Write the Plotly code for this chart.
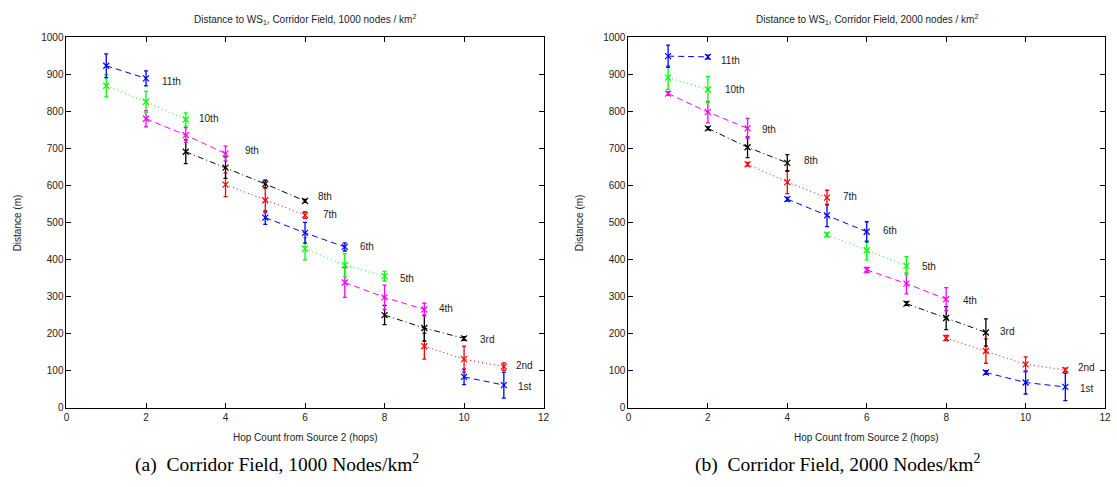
import plotly.graph_objects as go

W, H = 1117, 487

series_labels = ["1st", "2nd", "3rd", "4th", "5th", "6th", "7th", "8th", "9th", "10th", "11th"]
series_colors = ["#0000ff", "#ff0000", "#000000", "#ff00ff", "#00ff00",
                 "#0000ff", "#ff0000", "#000000", "#ff00ff", "#00ff00", "#0000ff"]
series_dashes = ["6px,4px", "1px,3px", "6px,3px,1px,3px", "6px,4px", "1px,3px",
                 "6px,4px", "1px,3px", "6px,3px,1px,3px", "6px,4px", "1px,3px", "6px,4px"]

# ---- (a) 1000 nodes / km^2 ----
left_x = [[10, 11], [9, 10, 11], [8, 9, 10], [7, 8, 9], [6, 7, 8], [5, 6, 7],
          [4, 5, 6], [3, 4, 5, 6], [2, 3, 4], [1, 2, 3], [1, 2]]
left_y = [[83, 61], [166, 131, 111], [250, 215, 187], [338, 298, 265], [429, 385, 355],
          [513, 472, 434], [602, 560, 520], [691, 648, 604, 558], [780, 736, 686],
          [869, 826, 778], [923, 889]]
left_err = [[21, 35], [35, 35, 10], [26, 35, 5], [40, 33, 17], [30, 31, 13],
            [18, 28, 11], [32, 33, 9], [32, 29, 10, 4], [22, 20, 20],
            [30, 28, 18], [32, 20]]
left_label_x = [11.3, 11.25, 10.36, 9.31, 8.33, 7.34, 6.4, 6.28, 4.43, 3.29, 2.35]
left_label_y = [58, 115, 183, 267, 350, 436, 522, 570, 693, 781, 881]

# ---- (b) 2000 nodes / km^2 ----
right_x = [[9, 10, 11], [8, 9, 10, 11], [7, 8, 9], [6, 7, 8], [5, 6, 7], [4, 5, 6],
           [3, 4, 5], [2, 3, 4], [1, 2, 3], [1, 2], [1, 2]]
right_y = [[95, 68, 56], [188, 153, 117, 102], [281, 242, 203], [372, 335, 293],
           [467, 425, 383], [563, 519, 475], [657, 609, 567], [754, 703, 661],
           [848, 798, 754], [891, 859], [949, 947]]
right_err = [[5, 31, 37], [7, 33, 20, 5], [5, 31, 37], [7, 28, 31], [5, 26, 25],
             [5, 30, 27], [5, 31, 20], [4, 28, 22], [5, 29, 27], [32, 35], [30, 5]]
right_label_x = [11.31, 11.28, 9.31, 8.37, 7.35, 6.35, 5.35, 4.38, 3.31, 2.38, 2.27]
right_label_y = [51, 109, 205, 289, 381, 478, 569, 666, 750, 859, 936]

titles = ["Distance to WS<sub>1</sub>, Corridor Field, 1000 nodes / km<sup>2</sup>",
          "Distance to WS<sub>1</sub>, Corridor Field, 2000 nodes / km<sup>2</sup>"]
captions = ["(a)  Corridor Field, 1000 Nodes/km<sup>2</sup>",
            "(b)  Corridor Field, 2000 Nodes/km<sup>2</sup>"]
x_title = "Hop Count from Source 2 (hops)"
y_title = "Distance (m)"
x_ticks = [0, 2, 4, 6, 8, 10, 12]
y_ticks = [0, 100, 200, 300, 400, 500, 600, 700, 800, 900, 1000]

# pixel layout of the two axes boxes
px_left = [(64, 545), (630.5, 1111)]
py_top, py_bot = 33, 412

SANS = "Liberation Sans, Arial, sans-serif"

fig = go.Figure()

panels = [(left_x, left_y, left_err, left_label_x, left_label_y, "x", "y"),
          (right_x, right_y, right_err, right_label_x, right_label_y, "x2", "y2")]

for pi, (xs, ys, es, lx, ly, xa, ya) in enumerate(panels):
    for i in range(len(series_labels)):
        fig.add_trace(go.Scatter(
            x=xs[i], y=ys[i], xaxis=xa, yaxis=ya, mode="lines+markers",
            line=dict(color=series_colors[i], width=1, dash=series_dashes[i]),
            marker=dict(symbol="x-thin", size=6, color=series_colors[i],
                        line=dict(width=1.2, color=series_colors[i])),
            error_y=dict(type="data", array=es[i], visible=True,
                         color=series_colors[i], thickness=1.3, width=2),
            showlegend=False, hoverinfo="skip"))
        fig.add_annotation(x=lx[i], y=ly[i], xref=xa, yref=ya, text=series_labels[i],
                           showarrow=False, xanchor="left", yanchor="middle",
                           font=dict(size=10, color="#222222", family=SANS))

axis_common = dict(showline=True, linecolor="black", linewidth=1, mirror="ticks",
                   ticks="inside", ticklen=5, tickcolor="black", showgrid=False,
                   zeroline=False,
                   tickfont=dict(size=10, color="#222222", family=SANS))

for k, (xa, ya) in enumerate([("xaxis", "yaxis"), ("xaxis2", "yaxis2")]):
    x0, x1 = px_left[k]
    fig.layout[xa] = dict(axis_common, domain=[x0 / W, x1 / W], range=[0, 12],
                          tickvals=x_ticks, anchor="y" if k == 0 else "y2")
    fig.layout[ya] = dict(axis_common, domain=[(H - py_bot) / H, (H - py_top) / H],
                          range=[0, 1000], tickvals=y_ticks,
                          anchor="x" if k == 0 else "x2")
    cx = (x0 + x1) / 2
    fig.add_annotation(x=cx / W, y=(H - 15) / H, xref="paper", yref="paper",
                       text=titles[k], showarrow=False, xanchor="center", yanchor="middle",
                       font=dict(size=10, color="#222222", family=SANS))
    fig.add_annotation(x=cx / W, y=(H - 442) / H, xref="paper", yref="paper",
                       text=x_title, showarrow=False, xanchor="center", yanchor="middle",
                       font=dict(size=10, color="#222222", family=SANS))
    fig.add_annotation(x=(x0 - 49) / W, y=(H - (py_top + py_bot) / 2) / H,
                       xref="paper", yref="paper", text=y_title, textangle=-90,
                       showarrow=False, xanchor="center", yanchor="middle",
                       font=dict(size=10, color="#222222", family=SANS))
    capx = [276, 841][k]
    fig.add_annotation(x=capx / W, y=(H - 469) / H, xref="paper", yref="paper",
                       text=captions[k], showarrow=False, xanchor="center", yanchor="middle",
                       font=dict(size=19.5, color="#000000",
                                 family="Liberation Serif, Times New Roman, serif"))

fig.update_layout(width=W, height=H, margin=dict(l=0, r=0, t=0, b=0),
                  paper_bgcolor="white", plot_bgcolor="white")

fig.write_html("out.html")
